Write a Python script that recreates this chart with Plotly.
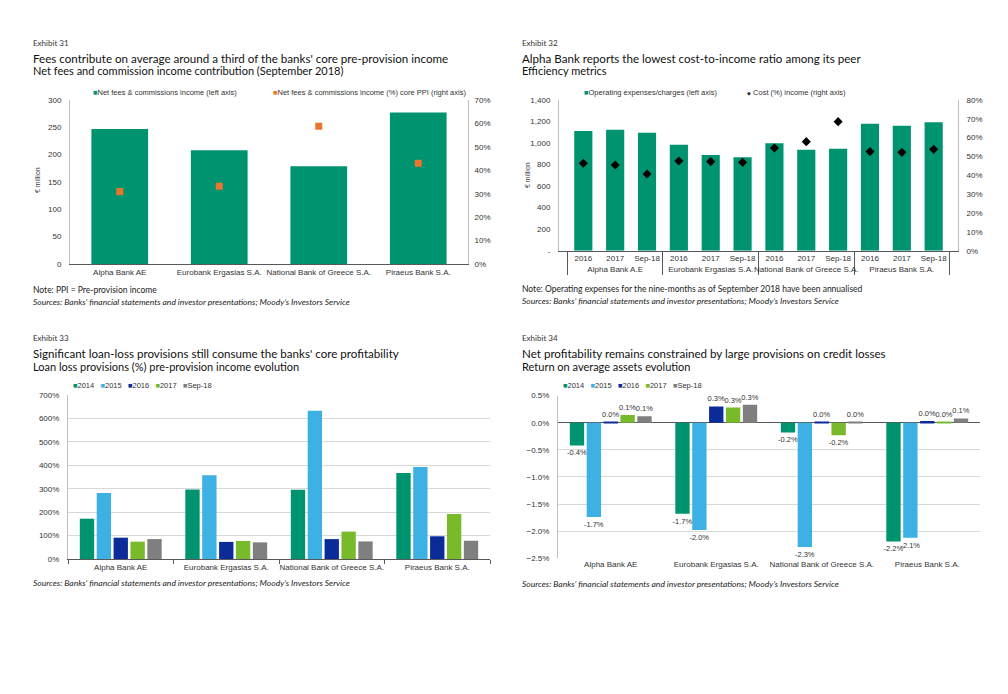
import plotly.graph_objects as go

# The page body has an 8px margin; the figure is sized to the remaining area.
W, H = 1000, 686
OFF = 8

# ---------------- Data ----------------
# Exhibit 31
banks = ["Alpha Bank AE", "Eurobank Ergasias S.A.", "National Bank of Greece S.A.", "Piraeus Bank S.A."]
fees_income_eur_m = [247, 208, 179, 277]
fees_share_core_ppi_pct = [30.9, 33.2, 58.8, 43.0]

# Exhibit 32
eff_banks = ["Alpha Bank A.E", "Alpha Bank A.E", "Alpha Bank A.E",
             "Eurobank Ergasias S.A.", "Eurobank Ergasias S.A.", "Eurobank Ergasias S.A.",
             "National Bank of Greece S.A.", "National Bank of Greece S.A.", "National Bank of Greece S.A.",
             "Piraeus Bank S.A.", "Piraeus Bank S.A.", "Piraeus Bank S.A."]
eff_periods = ["2016", "2017", "Sep-18"] * 4
opex_eur_m = [1112, 1124, 1096, 985, 889, 867, 998, 938, 947, 1180, 1161, 1193]
cost_income_pct = [46.4, 45.5, 40.7, 47.6, 47.3, 46.9, 54.5, 57.9, 68.5, 52.6, 52.2, 53.8]
opex_ticks = [0, 200, 400, 600, 800, 1000, 1200, 1400]
opex_ticktext = ["-", "200", "400", "600", "800", "1,000", "1,200", "1,400"]

# Exhibit 33 (loan loss provisions % of PPI)
period_labels = ["2014", "2015", "2016", "2017", "Sep-18"]
llp_2014 = [172, 297, 296, 367]
llp_2015 = [282, 357, 633, 393]
llp_2016 = [91, 73, 85, 97]
llp_2017 = [74, 77, 117, 192]
llp_sep18 = [85, 71, 75, 78]

# Exhibit 34 (RoAA %)
roaa_2014 = [-0.42, -1.68, -0.18, -2.19]
roaa_2015 = [-1.74, -1.98, -2.29, -2.12]
roaa_2016 = [0.02, 0.30, 0.02, 0.03]
roaa_2017 = [0.14, 0.28, -0.23, 0.004]
roaa_sep18 = [0.12, 0.33, 0.004, 0.08]

# ---------------- Styles ----------------
GREEN = "#00936F"
ORANGE = "#E8762D"
LBLUE = "#3DB0E4"
DBLUE = "#0B2B98"
LIME = "#79BA2B"
GREY = "#7F7F7F"
SERIES_COLORS = [GREEN, LBLUE, DBLUE, LIME, GREY]

TICKF = dict(family="Liberation Sans, Arial, sans-serif", size=8, color="#333333")
TITLEF = "Lato, Noto Sans, sans-serif"

fig = go.Figure()

# Exhibit 31
fig.add_trace(go.Bar(x=banks, y=fees_income_eur_m, marker_color=GREEN, width=0.57,
                     xaxis="x", yaxis="y", showlegend=False))
fig.add_trace(go.Scatter(x=banks, y=fees_share_core_ppi_pct, mode="markers",
                         marker=dict(symbol="square", size=7, color=ORANGE),
                         xaxis="x", yaxis="y2", showlegend=False))

# Exhibit 32
fig.add_trace(go.Bar(x=[eff_banks, eff_periods], y=opex_eur_m, marker_color=GREEN, width=0.57,
                     xaxis="x2", yaxis="y3", showlegend=False))
fig.add_trace(go.Scatter(x=[eff_banks, eff_periods], y=cost_income_pct, mode="markers",
                         marker=dict(symbol="diamond", size=7, color="black"),
                         xaxis="x2", yaxis="y4", showlegend=False))

# Exhibit 33
for name, vals, col in zip(period_labels, [llp_2014, llp_2015, llp_2016, llp_2017, llp_sep18], SERIES_COLORS):
    fig.add_trace(go.Bar(x=banks, y=vals, name=name, marker_color=col,
                         xaxis="x3", yaxis="y5", showlegend=False))

# Exhibit 34
for name, vals, col in zip(period_labels, [roaa_2014, roaa_2015, roaa_2016, roaa_2017, roaa_sep18], SERIES_COLORS):
    fig.add_trace(go.Bar(x=banks, y=vals, name=name, marker_color=col,
                         texttemplate="%{y:.1f}%", textposition="outside", cliponaxis=False,
                         constraintext="none",
                         textfont=dict(family="Liberation Sans, Arial, sans-serif", size=7.5, color="#333333"),
                         xaxis="x4", yaxis="y6", showlegend=False))


def px_x(p):
    return (p - OFF) / W


def px_y(p):
    return 1 - (p - OFF) / H


annotations = []


def txt(x, y, text, size, color="#222222", family=TITLEF, anchor="left", **kw):
    annotations.append(dict(x=px_x(x), y=px_y(y), xref="paper", yref="paper", text=text,
                            showarrow=False, xanchor=anchor, yanchor="middle", borderpad=0,
                            font=dict(family=family, size=size, color=color), **kw))


def headers(x, y0, exhibit, title, subtitle):
    txt(x, y0, exhibit, 8, color="#333333")
    txt(x, y0 + 15, title, 11.6, color="#111111")
    txt(x, y0 + 28, subtitle, 11, color="#111111")


SRC = "<i>Sources: Banks’ financial statements and investor presentations; Moody’s Investors Service</i>"
LEGF = "Liberation Sans, Arial, sans-serif"


def sq(color):
    return f"<span style='color:{color}'>■</span>"


# Panel headers
headers(32, 43, "Exhibit 31", "Fees contribute on average around a third of the banks' core pre-provision income",
        "Net fees and commission income contribution (September 2018)")
headers(521, 43, "Exhibit 32", "Alpha Bank reports the lowest cost-to-income ratio among its peer",
        "Efficiency metrics")
headers(32, 338, "Exhibit 33", "Significant loan-loss provisions still consume the banks' core profitability",
        "Loan loss provisions (%) pre-provision income evolution")
headers(521, 338, "Exhibit 34", "Net profitability remains constrained by large provisions on credit losses",
        "Return on average assets evolution")

# Notes and sources
txt(32, 290, "Note: PPI = Pre-provision income", 8.5, color="#222222")
txt(32, 302, SRC, 8.5, color="#222222")
txt(521, 289, "Note: Operating expenses for the nine-months as of September 2018 have been annualised", 8.5,
    color="#222222")
txt(521, 301, SRC, 8.5, color="#222222")
txt(32, 583, SRC, 8.5, color="#222222")
txt(521, 584, SRC, 8.5, color="#222222")

# Legends
txt(92, 92, sq(GREEN) + "Net fees & commissions income (left axis)", 7.5, color="#333333", family=LEGF)
txt(272, 92, sq(ORANGE) + "Net fees & commissions income (%) core PPI (right axis)", 7.5, color="#333333",
    family=LEGF)
txt(583, 92, sq(GREEN) + "Operating expenses/charges (left axis)", 7.5, color="#333333", family=LEGF)
txt(746, 92, "<span style='font-size:5px'>◆</span> Cost (%) income (right axis)", 7.5, color="#333333",
    family=LEGF)
legend_items = "&nbsp;&nbsp;&nbsp;".join(sq(c) + n for n, c in zip(period_labels, SERIES_COLORS))
txt(72, 386, legend_items, 7.5, color="#333333", family=LEGF)
txt(562, 386, legend_items, 7.5, color="#333333", family=LEGF)

# axis titles
txt(37, 180, "€ million", 7, color="#333333", family=LEGF, anchor="center", textangle=-90)
txt(527, 175, "€ million", 7, color="#333333", family=LEGF, anchor="center", textangle=-90)

LIGHT = "#BFBFBF"
DARK = "#595959"
GRID = "#D9D9D9"

fig.update_layout(
    width=W, height=H, template="none",
    margin=dict(l=0, r=0, t=0, b=0),
    paper_bgcolor="white", plot_bgcolor="rgba(0,0,0,0)",
    barmode="group", bargap=0.2, bargroupgap=0.15,
    showlegend=False,
    annotations=annotations,
    # Exhibit 31
    xaxis=dict(domain=[px_x(70), px_x(468)], anchor="y", showline=True, linecolor=DARK, showgrid=False,
               ticks="", tickfont=TICKF, zeroline=False, tickangle=0),
    yaxis=dict(domain=[px_y(264), px_y(100)], anchor="x", range=[0, 300], dtick=50, showline=True,
               linecolor=LIGHT, showgrid=False, zeroline=False, ticks="", tickfont=TICKF, ticklabelstandoff=6),
    yaxis2=dict(overlaying="y", side="right", anchor="x", range=[0, 70], dtick=10, ticksuffix="%",
                showline=True, linecolor=LIGHT, showgrid=False, zeroline=False, ticks="", tickfont=TICKF,
                ticklabelstandoff=4),
    # Exhibit 32
    xaxis2=dict(domain=[px_x(559), px_x(958)], anchor="y3", type="multicategory", showline=True,
                linecolor=DARK, showdividers=True, dividercolor=DARK, dividerwidth=1, showgrid=False,
                ticks="", tickfont=TICKF, zeroline=False, tickangle=0),
    yaxis3=dict(domain=[px_y(250.7), px_y(100)], anchor="x2", range=[0, 1400], tickvals=opex_ticks,
                ticktext=opex_ticktext, showline=True, linecolor=LIGHT, showgrid=False, zeroline=False,
                ticks="", tickfont=TICKF, ticklabelstandoff=6),
    yaxis4=dict(overlaying="y3", side="right", anchor="x2", range=[0, 80], dtick=10, ticksuffix="%",
                showline=True, linecolor=LIGHT, showgrid=False, zeroline=False, ticks="", tickfont=TICKF,
                ticklabelstandoff=6),
    # Exhibit 33
    xaxis3=dict(domain=[px_x(68), px_x(490)], anchor="y5", showline=True, linecolor=DARK, showgrid=False,
                ticks="outside", tickson="boundaries", ticklen=4, tickcolor=DARK, tickfont=TICKF,
                zeroline=False, tickangle=0),
    yaxis5=dict(domain=[px_y(559), px_y(395)], anchor="x3", range=[0, 700], dtick=100, ticksuffix="%",
                showline=True, linecolor=LIGHT, showgrid=True, gridcolor=GRID, zeroline=False, ticks="",
                tickfont=TICKF, ticklabelstandoff=6),
    # Exhibit 34
    xaxis4=dict(domain=[px_x(558), px_x(980)], anchor="y6", showline=False, showgrid=False, ticks="",
                tickfont=TICKF, zeroline=False, tickangle=0),
    yaxis6=dict(domain=[px_y(558.3), px_y(395.6)], anchor="x4", range=[-2.5, 0.5], dtick=0.5,
                tickformat=".1f", ticksuffix="%", showline=True, linecolor=LIGHT, showgrid=True,
                gridcolor=GRID, zeroline=True, zerolinecolor=DARK, zerolinewidth=1, ticks="",
                tickfont=TICKF, ticklabelstandoff=6),
)

fig.write_html("out.html")
